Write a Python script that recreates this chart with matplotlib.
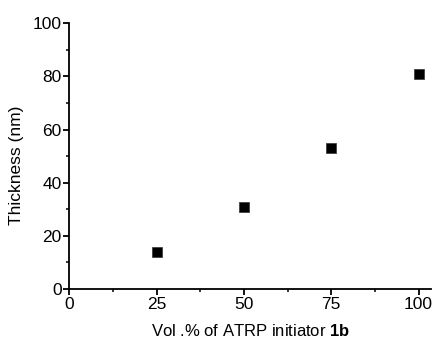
import matplotlib
matplotlib.use("Agg")
import matplotlib.pyplot as plt
from matplotlib.ticker import MultipleLocator

vol_pct = [25, 50, 75, 100]
thickness = [14, 31, 53, 81]

plt.rcParams['font.family'] = 'Liberation Sans'
plt.rcParams['mathtext.fontset'] = 'custom'
plt.rcParams['mathtext.rm'] = 'Liberation Sans'
plt.rcParams['mathtext.bf'] = 'Liberation Sans:bold'

fig = plt.figure(figsize=(4.33, 3.38), dpi=100)
ax = fig.add_axes([0.160, 0.145, 0.835, 0.786])
ax.scatter(vol_pct, thickness, marker='s', s=52, c='black', edgecolors='#333333', linewidths=0.5, zorder=3)

ax.set_xlim(0, 103.5)
ax.set_ylim(0, 100)
ax.xaxis.set_major_locator(MultipleLocator(25))
ax.xaxis.set_minor_locator(MultipleLocator(12.5))
ax.yaxis.set_major_locator(MultipleLocator(20))
ax.yaxis.set_minor_locator(MultipleLocator(10))

for s in ['top', 'right']:
    ax.spines[s].set_visible(False)
for s in ['left', 'bottom']:
    ax.spines[s].set_linewidth(1.3)
ax.tick_params(which='major', direction='out', length=4, width=1.3, labelsize=12.5, pad=1.5)
ax.tick_params(which='minor', direction='out', length=2.5, width=1.1)

ax.set_xlabel(r'Vol .% of ATRP initiator $\mathbf{1b}$', fontsize=12, labelpad=8.5)
ax.set_ylabel('Thickness (nm)', fontsize=12.5)
ax.yaxis.set_label_coords(-0.125, 0.466)

fig.savefig('out.png', dpi=100)
